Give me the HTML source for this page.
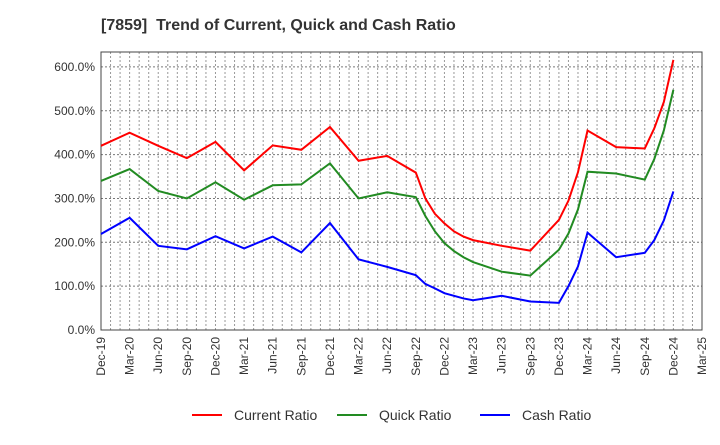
<!DOCTYPE html>
<html><head><meta charset="utf-8"><style>
body{margin:0;background:#fff;font-family:"Liberation Sans",Arial,sans-serif;}
svg text{font-family:"Liberation Sans",Arial,sans-serif;}
</style></head><body>
<svg id="c" width="720" height="440" xmlns="http://www.w3.org/2000/svg">
<text x="101" y="30" font-size="16" font-weight="bold" fill="#333" style="white-space:pre" xml:space="preserve">[7859]  Trend of Current, Quick and Cash Ratio</text>
</svg>
<script>
const months = [0,3,6,9,12,15,18,21,24,27,30,33,34,35,36,37,38,39,42,45,48,49,50,51,54,57,58,59,60];
const currentRatio = [420,450,420,392,429,364,421,411,463,386,397,359,300,265,243,225,213,205,192,181,251,295,360,455,417,414,460,520,616];
const quickRatio = [340,367,317,300,337,297,330,332,380,300,314,303,260,225,198,180,166,155,133,124,183,220,275,361,357,343,390,455,548];
const cashRatio = [219,256,192,184,214,186,213,177,244,161,144,125,105,95,84,78,72,68,78,65,62,100,145,222,166,176,205,250,316];
const yTicks = [0,100,200,300,400,500,600];
const xTickLabels = ["Dec-19","Mar-20","Jun-20","Sep-20","Dec-20","Mar-21","Jun-21","Sep-21","Dec-21","Mar-22","Jun-22","Sep-22","Dec-22","Mar-23","Jun-23","Sep-23","Dec-23","Mar-24","Jun-24","Sep-24","Dec-24","Mar-25"];
const L=101,R=702,T=52,B=330,XMAX=63,YMAX=634;
const sx=m=>L+(R-L)*m/XMAX;
const sy=v=>B-(B-T)*v/YMAX;
const svg=document.getElementById('c');
const NS='http://www.w3.org/2000/svg';
function mk(tag,attrs){const e=document.createElementNS(NS,tag);for(const k in attrs)e.setAttribute(k,attrs[k]);svg.appendChild(e);return e;}
for(let m=1;m<XMAX;m++){
  const g=mk('line',{x1:sx(m),x2:sx(m),y1:T,y2:B,stroke:'#999','stroke-width':1,'stroke-dasharray':'2,2'});
  
  
}
yTicks.forEach(v=>{
  if(v>0){const g=mk('line',{x1:L,x2:R,y1:sy(v),y2:sy(v),stroke:'#777','stroke-width':1,'stroke-dasharray':'2,2'});
  
  }
  const t=mk('text',{x:L-6,y:sy(v)+4,'font-size':12,'text-anchor':'end',fill:'#333'});
  
  
  t.textContent=v.toFixed(1)+'%';
});
xTickLabels.forEach((s,i)=>{
  const x=sx(i*3);
  const t=mk('text',{x:0,y:0,'font-size':12,'text-anchor':'end',fill:'#333',transform:`translate(${x+4},${B+7}) rotate(-90)`});
  
  
  t.textContent=s;
});
const fr=mk('rect',{x:L,y:T,width:R-L,height:B-T,fill:'none',stroke:'#444','stroke-width':1});


[[currentRatio,'#ff0000','current-ratio-line'],[quickRatio,'#228b22','quick-ratio-line'],[cashRatio,'#0000ff','cash-ratio-line']].forEach(([d,c,n])=>{
  const p=mk('polyline',{points:d.map((v,i)=>sx(months[i])+','+sy(v)).join(' '),fill:'none',stroke:c,'stroke-width':2});
  
  
});
[['Current Ratio','#ff0000',192],['Quick Ratio','#228b22',337],['Cash Ratio','#0000ff',480]].forEach(([s,c,x])=>{
  const l=mk('line',{x1:x,x2:x+30,y1:415,y2:415,stroke:c,'stroke-width':2});
  
  
  const t=mk('text',{x:x+42,y:420,'font-size':14,fill:'#333'});
  
  
  t.textContent=s;
});
</script>
</body></html>
